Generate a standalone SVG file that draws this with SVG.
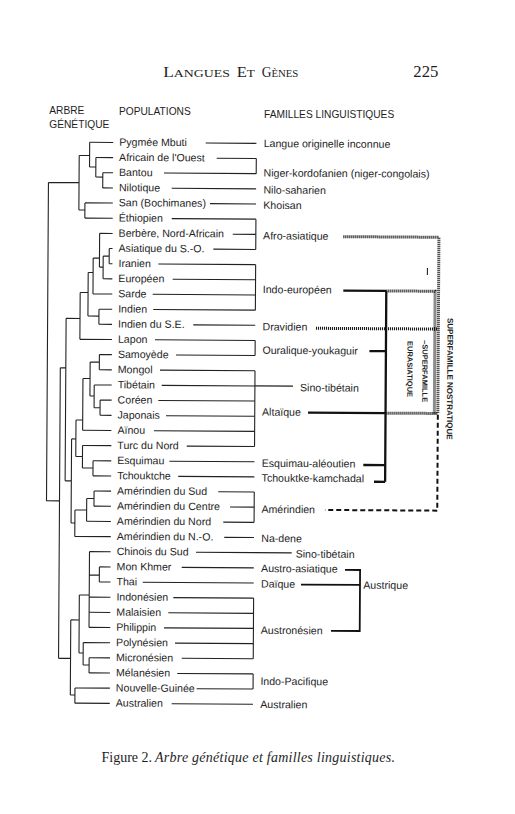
<svg xmlns="http://www.w3.org/2000/svg" width="515" height="814" viewBox="0 0 515 814">
<style>
.t{font-family:"Liberation Sans",Arial,sans-serif;font-size:10.6px;fill:#1e1e1e}
.h{font-family:"Liberation Sans",Arial,sans-serif;font-size:10.2px;fill:#1e1e1e}
.v{font-family:"Liberation Sans",Arial,sans-serif;font-weight:bold;fill:#1e1e1e}
.s{font-family:"Liberation Serif","Times New Roman",serif;fill:#1e1e1e}
.ln{fill:none;stroke:#222;stroke-width:1.1}
.tk{fill:none;stroke:#111;stroke-width:2.3}
.aq{fill:none;stroke:#111;stroke-width:1.8}
.dt{fill:none;stroke:#1a1a1a;stroke-width:3;stroke-dasharray:1.1 0.9}
.ds{fill:none;stroke:#111;stroke-width:2;stroke-dasharray:5 3}
</style>
<rect width="515" height="814" fill="#fff"/>
<g id="header">
<text class="s" x="163.3" y="77" textLength="66.7" lengthAdjust="spacingAndGlyphs"><tspan font-size="14">L</tspan><tspan font-size="11.2">ANGUES</tspan></text>
<text class="s" x="236.7" y="77" textLength="18.3" lengthAdjust="spacingAndGlyphs"><tspan font-size="14">E</tspan><tspan font-size="11.2">T</tspan></text>
<text class="s" x="261.7" y="77" textLength="36.6" lengthAdjust="spacingAndGlyphs"><tspan font-size="14">G</tspan><tspan font-size="11.2">ÈNES</tspan></text>
<text class="s" x="413.3" y="77.3" font-size="16" textLength="25" lengthAdjust="spacingAndGlyphs">225</text>
</g>
<g id="headings">
<text class="h" x="49.3" y="113.8">ARBRE</text>
<text class="h" x="49.3" y="128.2">GÉNÉTIQUE</text>
<text class="h" x="119" y="114.7">POPULATIONS</text>
<text class="h" x="264" y="117.8">FAMILLES LINGUISTIQUES</text>
</g>
<g id="diagram" transform="rotate(0.35 250 420)">
<g id="connectors">
<g id="tree">
<path class="ln" d="M88 143.3H111.5M94.3 158.5H111.5M101.3 173.6H111.5M101.3 188.8H111.5M83.6 203.9H111.5M83.6 219.1H111.5M98.5 234.3H111.5M108.2 249.4H111.5M108.2 264.6H111.5M102.2 279.7H111.5M92.2 294.9H111.5M98.3 310.1H111.5M98.3 325.2H111.5M79.4 340.4H111.5M99 355.5H111.5M99 370.7H111.5M94 385.9H111.5M100 401H111.5M100 416.2H111.5M82.7 431.3H111.5M82.7 446.5H111.5M93.3 461.7H111.5M93.3 476.8H111.5M94.5 492H111.5M94.5 507.1H111.5M87.2 522.3H111.5M75.5 537.5H111.5M90.3 552.6H111.5M100.3 567.8H111.5M100.3 582.9H111.5M90.3 598.1H111.5M90.3 613.3H111.5M90.3 628.4H111.5M84.6 643.6H111.5M90.6 658.7H111.5M90.6 673.9H111.5M76.6 689H111.5M76.6 704.2H111.5"/>
<path class="ln" d="M101.3 173.6V188.8M94.3 178H101.3M94.3 158.5V178M88 168H94.3M88 143.3V168M77.6 156.5H88M83.6 203.9V219.1M77.6 211H83.6M77.6 156.5V211M47 183.7H77.6M47 183.7V502H60"/>
<path class="ln" d="M108.2 249.4V264.6M102.2 257H108.2M102.2 257V279.7M98.5 268H102.2M98.5 234.3V268M92.2 259H98.5M92.2 259V294.9M87.3 273.5H92.2M98.3 310.1V325.2M87.3 317H98.3M87.3 273.5V317M79.4 293.5H87.3M79.4 293.5V340.4M65.5 319.5H79.4M65.5 319.5V482M60 369H65.5"/>
<path class="ln" d="M99 355.5V370.7M89.8 363H99M100 401V416.2M94 408.6H100M94 385.9V408.6M89.8 397H94M89.8 363V397M82.7 379.5H89.8M82.7 379.5V431.3M76 421H82.7M93.3 461.7V476.8M82.7 469H93.3M82.7 446.5V469M76 457.5H82.7M76 421V457.5M71.7 440H76"/>
<path class="ln" d="M94.5 492V507.1M87.2 499.5H94.5M87.2 499.5V522.3M75.5 511H87.2M75.5 511V537.5M71.7 524H75.5M71.7 440V524M65.5 482H71.7"/>
<path class="ln" d="M100.3 567.8V582.9M90.3 576H100.3M90.3 552.6V628.4M80.4 596H90.3M90.6 658.7V673.9M84.6 666H90.6M84.6 643.6V666M80.4 654H84.6M80.4 596V654M72 621H80.4M76.6 689V704.2M72 696H76.6M72 621V696M60 659.5H72M60 369V659.5"/>
</g>
<g id="family-links">
<path class="ln" d="M204 143.3H254.7M215.1 158.5H254.7M162.5 173.6H254.7M170.3 188.8H254.7M208.7 203.9H254.7M170.5 219.1H254.7M231.6 234.3H254.7M212.3 249.4H254.7M157.4 264.6H254.7M171.8 279.7H254.7M151.9 294.9H254.7M152.6 310.1H254.7M192.7 325.2H254.7M154.5 340.4H254.7M175.6 355.5H254.7M159.7 370.7H254.7M161.5 385.9H292.8M158.2 401H254.7M166 416.2H254.7M154.1 431.3H254.7M186.9 446.5H254.7M169.6 461.7H254.7M178.6 476.8H254.7M218.7 492H254.7M230.5 507.1H254.7M223.9 522.3H254.7M225 537.5H254.7M196.8 552.6H292.5M182.6 567.8H254.7M143.7 582.9H254.7M174.4 598.1H254.7M169.5 613.3H254.7M165.3 628.4H254.7M176.4 643.6H254.7M183.2 658.7H254.7M178.8 673.9H254.7M198.3 689H254.7M173.4 704.2H254.7"/>
<path class="ln" d="M254.7 158.5V173.6M254.7 219.1V249.4M254.7 264.6V310.1M254.7 340.4V355.5M254.7 370.7V446.5M254.7 492V522.3M254.7 598.1V658.7M254.7 673.9V689"/>
</g>
<g id="superfamilies">
<path class="tk" d="M342.5 290.1H385.5M369 350.3H385.5M308 412.3H385.5M363.6 464.3H385.5M374.4 481H385.5M385.5 290.1V481"/>
<path class="aq" d="M345.9 569.3H361V630.3H332.3M302 584.3H361"/>
<path class="dt" d="M342.2 236.1H437.8V412.3M385.5 290.1H434.3V412.3M315.4 327.9H437.8M385.5 412.3H437.8"/>
<path class="ds" d="M437.8 413.5V509.5H325.5"/>
<path class="ln" d="M426.5 267V274"/>
</g>
</g>
<g id="populations">
<g id="p00"><text class="t" x="117.5" y="146.5">Pygmée Mbuti</text></g>
<g id="p01"><text class="t" x="117.5" y="161.7">Africain de l'Ouest</text></g>
<g id="p02"><text class="t" x="117.5" y="176.8">Bantou</text></g>
<g id="p03"><text class="t" x="117.5" y="192">Nilotique</text></g>
<g id="p04"><text class="t" x="117.5" y="207.1">San (Bochimanes)</text></g>
<g id="p05"><text class="t" x="117.5" y="222.3">Éthiopien</text></g>
<g id="p06"><text class="t" x="117.5" y="237.5">Berbère, Nord-Africain</text></g>
<g id="p07"><text class="t" x="117.5" y="252.6">Asiatique du S.-O.</text></g>
<g id="p08"><text class="t" x="117.5" y="267.8">Iranien</text></g>
<g id="p09"><text class="t" x="117.5" y="282.9">Européen</text></g>
<g id="p10"><text class="t" x="117.5" y="298.1">Sarde</text></g>
<g id="p11"><text class="t" x="117.5" y="313.3">Indien</text></g>
<g id="p12"><text class="t" x="117.5" y="328.4">Indien du S.E.</text></g>
<g id="p13"><text class="t" x="117.5" y="343.6">Lapon</text></g>
<g id="p14"><text class="t" x="117.5" y="358.7">Samoyède</text></g>
<g id="p15"><text class="t" x="117.5" y="373.9">Mongol</text></g>
<g id="p16"><text class="t" x="117.5" y="389.1">Tibétain</text></g>
<g id="p17"><text class="t" x="117.5" y="404.2">Coréen</text></g>
<g id="p18"><text class="t" x="117.5" y="419.4">Japonais</text></g>
<g id="p19"><text class="t" x="117.5" y="434.5">Aïnou</text></g>
<g id="p20"><text class="t" x="117.5" y="449.7">Turc du Nord</text></g>
<g id="p21"><text class="t" x="117.5" y="464.9">Esquimau</text></g>
<g id="p22"><text class="t" x="117.5" y="480">Tchouktche</text></g>
<g id="p23"><text class="t" x="117.5" y="495.2">Amérindien du Sud</text></g>
<g id="p24"><text class="t" x="117.5" y="510.3">Amérindien du Centre</text></g>
<g id="p25"><text class="t" x="117.5" y="525.5">Amérindien du Nord</text></g>
<g id="p26"><text class="t" x="117.5" y="540.7">Amérindien du N.-O.</text></g>
<g id="p27"><text class="t" x="117.5" y="555.8">Chinois du Sud</text></g>
<g id="p28"><text class="t" x="117.5" y="571">Mon Khmer</text></g>
<g id="p29"><text class="t" x="117.5" y="586.1">Thai</text></g>
<g id="p30"><text class="t" x="117.5" y="601.3">Indonésien</text></g>
<g id="p31"><text class="t" x="117.5" y="616.5">Malaisien</text></g>
<g id="p32"><text class="t" x="117.5" y="631.6">Philippin</text></g>
<g id="p33"><text class="t" x="117.5" y="646.8">Polynésien</text></g>
<g id="p34"><text class="t" x="117.5" y="661.9">Micronésien</text></g>
<g id="p35"><text class="t" x="117.5" y="677.1">Mélanésien</text></g>
<g id="p36"><text class="t" x="117.5" y="692.3">Nouvelle-Guinée</text></g>
<g id="p37"><text class="t" x="117.5" y="707.4">Australien</text></g>
</g>
<g id="families">
<g id="f-langue"><text class="t" x="262" y="147">Langue originelle inconnue</text></g>
<g id="f-niger"><text class="t" x="262" y="176.5">Niger-kordofanien (niger-congolais)</text></g>
<g id="f-nilo"><text class="t" x="262" y="193.5">Nilo-saharien</text></g>
<g id="f-khoisan"><text class="t" x="262" y="208.8">Khoisan</text></g>
<g id="f-afro"><text class="t" x="262" y="239.3">Afro-asiatique</text></g>
<g id="f-indoeur"><text class="t" x="262" y="293">Indo-européen</text></g>
<g id="f-drav"><text class="t" x="262" y="330.3">Dravidien</text></g>
<g id="f-oural"><text class="t" x="262" y="353.8">Ouralique-youkaguir</text></g>
<g id="f-sino1"><text class="t" x="299.8" y="391">Sino-tibétain</text></g>
<g id="f-altai"><text class="t" x="262" y="415.5">Altaïque</text></g>
<g id="f-esq"><text class="t" x="262" y="466.8">Esquimau-aléoutien</text></g>
<g id="f-tchouk"><text class="t" x="262" y="481.5">Tchouktke-kamchadal</text></g>
<g id="f-amer"><text class="t" x="262" y="512.8">Amérindien</text></g>
<g id="f-nadene"><text class="t" x="262" y="541.9">Na-dene</text></g>
<g id="f-sino2"><text class="t" x="296.5" y="557.3">Sino-tibétain</text></g>
<g id="f-austroas"><text class="t" x="262" y="572">Austro-asiatique</text></g>
<g id="f-daique"><text class="t" x="262" y="587.5">Daïque</text></g>
<g id="f-austron"><text class="t" x="262" y="633.8">Austronésien</text></g>
<g id="f-indopac"><text class="t" x="262" y="684.8">Indo-Pacifique</text></g>
<g id="f-austral"><text class="t" x="262" y="708">Australien</text></g>
<g id="f-austrique"><text class="t" x="364.3" y="588">Austrique</text></g>
<g id="sf-nostratique"><text class="v" font-size="8" transform="translate(446.9 316.8) rotate(90)">SUPERFAMILLE NOSTRATIQUE</text></g>
<g id="sf-eurasiatique"><text class="v" font-size="7.5" transform="translate(422 339) rotate(90)">–SUPERFAMILLE</text><text class="v" font-size="7.5" transform="translate(407 340) rotate(90)">EURASIATIQUE</text></g>
</g>
</g>
<g id="caption">
<text class="s" x="101.5" y="761.5" font-size="14">Figure 2.</text>
<text class="s" x="155" y="761.5" font-size="14" font-style="italic" textLength="240" lengthAdjust="spacing">Arbre génétique et familles linguistiques.</text>
</g>
</svg>
